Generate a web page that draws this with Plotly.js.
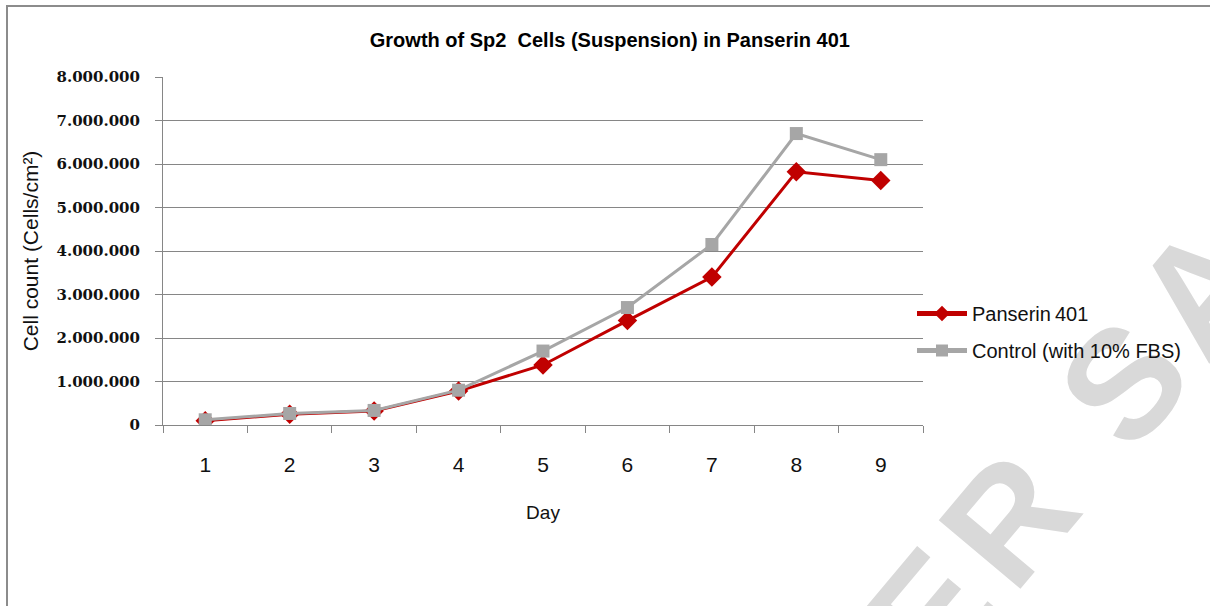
<!DOCTYPE html>
<html>
<head>
<meta charset="utf-8">
<script src="https://cdn.plot.ly/plotly-3.0.1.min.js"></script>
<style>
  html, body { margin: 0; padding: 0; background: #fff; }
  #wrap { position: relative; width: 1210px; height: 606px; overflow: hidden; background: #fff; }
  #chart { position: absolute; left: 0; top: 0; width: 1210px; height: 606px; }
  #frame { position: absolute; left: 6px; top: 5px; width: 1300px; height: 700px;
           border-left: 2px solid #8c8c8c; border-top: 2px solid #8c8c8c; pointer-events: none; }
  #wm { position: absolute; left: 1188px; top: 306px; white-space: nowrap;
        font-family: 'Liberation Sans', Arial, sans-serif; font-weight: bold; font-size: 155px;
        letter-spacing: 14px; line-height: 1; color: #d9d9d9;
        transform: translate(-50%, -50%) rotate(-50deg); transform-origin: 50% 50%; }
</style>
</head>
<body>
<div id="wrap">
  <div id="wm">HER SAMPLE</div>
  <div id="chart"></div>
  <div id="frame"></div>
</div>
<script>
// ---- data ----
const days = ['1', '2', '3', '4', '5', '6', '7', '8', '9'];
const panserin401 = [100000, 250000, 320000, 780000, 1380000, 2400000, 3400000, 5820000, 5620000];
const control10FBS = [120000, 265000, 335000, 800000, 1700000, 2700000, 4150000, 6700000, 6100000];
const seriesNames = ['Panserin\u2009401', 'Control (with 10% FBS)'];
const yTicks = [0, 1000000, 2000000, 3000000, 4000000, 5000000, 6000000, 7000000, 8000000];

const traces = [
  {
    x: days, y: panserin401, name: seriesNames[0], type: 'scatter', mode: 'lines+markers',
    line: { color: '#C00000', width: 3 },
    marker: { symbol: 'diamond', size: 15, color: '#C00000' },
    legendgroup: 'a'
  },
  {
    x: days, y: control10FBS, name: seriesNames[1], type: 'scatter', mode: 'lines+markers',
    line: { color: '#A6A6A6', width: 3 },
    marker: { symbol: 'square', size: 13, color: '#A6A6A6' },
    legendgroup: 'b'
  }
];

const L = 163, R = 923, T = 77, B = 425;
const layout = {
  width: 1210, height: 606,
  margin: { l: L, r: 1210 - R, t: T, b: 606 - B },
  paper_bgcolor: 'rgba(0,0,0,0)', plot_bgcolor: 'rgba(0,0,0,0)',
  separators: ',.',
  showlegend: true,
  font: { family: 'Liberation Sans, Arial, sans-serif', color: '#000' },
  title: {
    text: 'Growth of Sp2\u00a0 Cells (Suspension) in Panserin 401',
    font: { family: 'Liberation Sans, Arial, sans-serif', size: 20, color: '#000', weight: 'bold' },
    x: 0.504, xref: 'container', xanchor: 'center',
    y: 1 - 40 / 606, yref: 'container', yanchor: 'middle'
  },
  xaxis: {
    type: 'category',
    categoryorder: 'array', categoryarray: days,
    range: [-0.5, 8.5],
    tickson: 'boundaries',
    ticks: 'outside', ticklen: 7, tickcolor: '#868686', tickwidth: 1,
    showline: true, linecolor: '#868686', linewidth: 1,
    showgrid: false, zeroline: false,
    tickfont: { family: 'Liberation Sans, Arial, sans-serif', size: 21, color: '#111' },
    ticklabelstandoff: 21,
    title: { text: 'Day', font: { size: 19, color: '#111' }, standoff: 30 },
    automargin: false, fixedrange: true
  },
  yaxis: {
    range: [0, 8000000],
    tickvals: yTicks,
    tickformat: ',d',
    ticks: 'outside', ticklen: 7, tickcolor: '#868686', tickwidth: 1,
    showline: true, linecolor: '#868686', linewidth: 1,
    showgrid: true, gridcolor: '#868686', gridwidth: 1,
    zeroline: false,
    tickfont: { family: 'DejaVu Serif, serif', size: 15, color: '#111', weight: 'bold' },
    ticklabelstandoff: 12,
    title: { text: 'Cell count (Cells/cm\u00b2)', font: { size: 21, color: '#111' }, standoff: 12 },
    automargin: false, fixedrange: true
  },
  legend: {
    x: (912 - L) / (R - L), xanchor: 'left',
    y: (425 - 332) / (B - T), yanchor: 'middle',
    font: { family: 'Liberation Sans, Arial, sans-serif', size: 20, color: '#111' },
    bgcolor: 'rgba(0,0,0,0)', borderwidth: 0,
    itemwidth: 50, itemsizing: 'constant',
    traceorder: 'grouped', tracegroupgap: 8
  }
};

Plotly.newPlot('chart', traces, layout, { staticPlot: true, displayModeBar: false });
</script>
</body>
</html>
